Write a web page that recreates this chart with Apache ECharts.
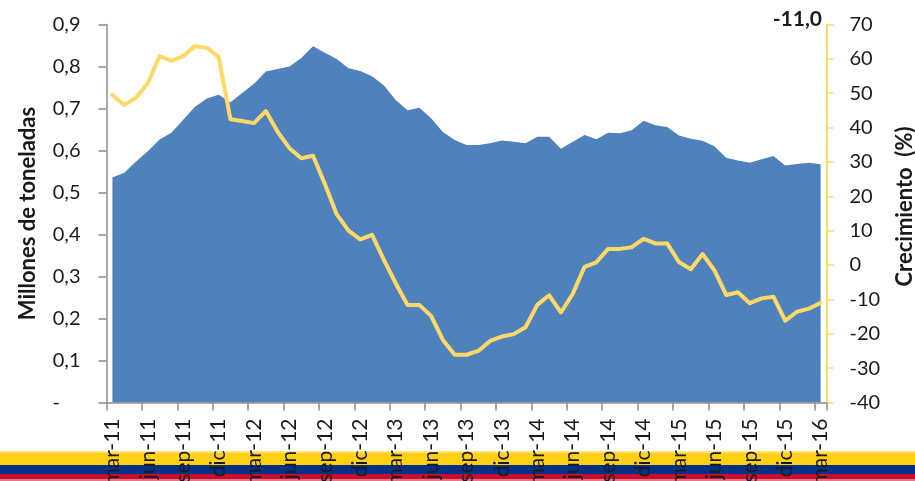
<!DOCTYPE html>
<html><head><meta charset="utf-8">
<style>html,body{margin:0;padding:0;background:#fff;overflow:hidden}#c{width:915px;height:481px}</style>
<script src="https://cdn.jsdelivr.net/npm/echarts@6/dist/echarts.min.js"></script></head>
<body><div id="c"></div>
<script>
const monthNames = ['ene','feb','mar','abr','may','jun','jul','ago','sep','oct','nov','dic'];
const categories = [];
for (let y = 11, m = 2; y < 16 || (y === 16 && m <= 2); ) {
  categories.push(monthNames[m] + '-' + y);
  m++; if (m === 12) { m = 0; y++; }
}
const toneladas = [0.536,0.547,0.574,0.598,0.626,0.642,0.673,0.704,0.724,0.733,0.715,0.737,0.759,0.788,0.794,0.800,0.820,0.848,0.833,0.818,0.796,0.789,0.777,0.755,0.720,0.696,0.702,0.677,0.644,0.625,0.613,0.613,0.617,0.624,0.621,0.617,0.633,0.633,0.604,0.621,0.637,0.627,0.642,0.641,0.648,0.671,0.660,0.656,0.636,0.628,0.623,0.610,0.583,0.576,0.571,0.579,0.587,0.564,0.568,0.571,0.567];
const crecimiento = [49.5,46.6,48.7,52.9,60.8,59.4,60.8,63.7,63.2,60.6,42.4,41.9,41.3,44.8,38.8,34.0,31.1,31.8,23.6,14.8,10.0,7.5,8.8,1.5,-5.3,-11.6,-11.6,-14.8,-21.8,-26.1,-26.1,-25.0,-22.1,-20.8,-20.1,-18.1,-11.6,-8.8,-13.8,-8.4,-0.5,0.8,4.7,4.7,5.2,7.6,6.3,6.3,0.9,-1.2,3.2,-1.5,-8.7,-7.9,-11.1,-9.7,-9.2,-16.2,-13.6,-12.7,-11.0];
const lastLabel = '-11,0';
const FONT = 'Lato';
const GRAY = '#8c8c8c', YEL = '#FFD966', TXT = '#1a1a1a';
const chart = echarts.init(document.getElementById('c'), null, {renderer:'canvas'});
chart.setOption({
  animation:false, backgroundColor:'#fff',
  grid:{left:106.5,right:88.5,top:24.5,height:378,containLabel:false,outerBoundsMode:'none'},
  graphic:[
    {type:'rect',z:0,shape:{x:0,y:451,width:915,height:1.5},style:{fill:'#FFE680'}},
    {type:'rect',z:0,shape:{x:0,y:452.5,width:915,height:12.5},style:{fill:'#FFD014'}},
    {type:'rect',z:0,shape:{x:0,y:465,width:915,height:9},style:{fill:'#003087'}},
    {type:'rect',z:0,shape:{x:0,y:474,width:915,height:5},style:{fill:'#C8102E'}},
    {type:'rect',z:0,shape:{x:0,y:479,width:915,height:2},style:{fill:'#E27586'}},
    {type:'text',z:10,style:{x:822,y:19,text:lastLabel,align:'right',verticalAlign:'middle',font:'bold 21px '+FONT,fill:TXT}}
  ],
  xAxis:[{type:'category',data:categories,boundaryGap:true,
    axisLine:{lineStyle:{color:GRAY,width:1.5}},
    axisTick:{show:true,length:8,interval:2,lineStyle:{color:GRAY,width:1.5}},
    axisLabel:{interval:2,rotate:90,margin:16,padding:[6,0,0,0],fontFamily:FONT,fontSize:21,color:TXT,hideOverlap:false,showMaxLabel:true}}],
  yAxis:[
    {type:'value',min:0,max:0.9,interval:0.1,splitLine:{show:false},
     name:'Millones de toneladas',nameLocation:'middle',nameGap:68,nameRotate:90,
     nameTextStyle:{fontFamily:FONT,fontWeight:'bold',fontSize:22,color:TXT},
     axisLine:{show:true,lineStyle:{color:GRAY,width:1.5}},
     axisTick:{show:true,length:8,lineStyle:{color:GRAY,width:1.5}},
     axisLabel:{margin:26,fontFamily:FONT,fontSize:20,color:TXT,formatter:v=>v===0?'-    ':v.toFixed(1).replace('.',',')}},
    {type:'value',position:'right',min:-40,max:70,interval:10,splitLine:{show:false},
     name:'Crecimiento  (%)',nameLocation:'middle',nameGap:67,nameRotate:90,
     nameTextStyle:{fontFamily:FONT,fontWeight:'bold',fontSize:22,color:TXT,padding:[0,0,0,14]},
     axisLine:{show:true,lineStyle:{color:YEL,width:2}},
     axisTick:{show:true,length:7,lineStyle:{color:YEL,width:1.5}},
     axisLabel:{margin:23,fontFamily:FONT,fontSize:20,color:TXT}}
  ],
  series:[
    {type:'line',data:toneladas,yAxisIndex:0,showSymbol:false,lineStyle:{width:0},areaStyle:{color:'#4F81BD',opacity:1},z:2},
    {type:'line',data:crecimiento,yAxisIndex:1,showSymbol:false,lineStyle:{color:YEL,width:4,cap:'round',join:'round'},z:3}
  ]
});
</script></body></html>
